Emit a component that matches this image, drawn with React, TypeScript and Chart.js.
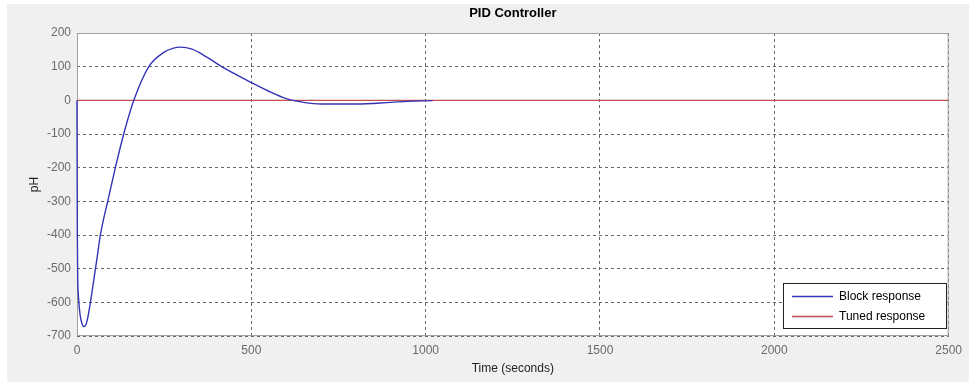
import React, { useEffect, useRef } from "react";
import { Chart, registerables } from "chart.js";

Chart.register(...registerables);

const titleText = "PID Controller";
const xTitle = "Time (seconds)";
const yTitle = "pH";
const seriesNames = ["Block response", "Tuned response"];
const blockTimes = [0, 0.5, 1, 2, 4, 7, 10, 15, 20, 25, 30, 40, 50, 58, 67, 88, 110, 134, 163, 206, 250, 277, 296, 330, 370, 415, 496, 550, 600, 650, 700, 800, 900, 950, 1020];
const blockValues = [0, -230, -400, -520, -580, -620, -645, -665, -672, -668, -650, -590, -520, -465, -400, -300, -200, -100, 0, 100, 143, 155, 158, 152, 130, 100, 55, 27, 5, -6, -11, -11, -6, -3, -1];
const tunedTimes = [0, 2500];
const tunedValues = [0, 0];
const xTicks = [0, 500, 1000, 1500, 2000, 2500];
const yTicks = [-700, -600, -500, -400, -300, -200, -100, 0, 100, 200];

const FONT = "'Liberation Sans', Arial, sans-serif";
const BLUE = "#3434b8";
const RED = "#c05050";

export default function App() {
  const ref = useRef<HTMLCanvasElement | null>(null);
  useEffect(() => {
    if (!ref.current) return;
    const decor = {
      id: "decor",
      beforeDraw(chart: any) {
        const c = chart.ctx;
        const a = chart.chartArea;
        c.save();
        c.fillStyle = "#ffffff";
        c.fillRect(0, 0, chart.width, chart.height);
        c.fillStyle = "#f0f0f0";
        c.fillRect(7, 4, chart.width - 7, chart.height - 4);
        c.fillStyle = "#ffffff";
        c.fillRect(a.left, a.top, a.right - a.left, a.bottom - a.top);
        c.restore();
      },
      beforeDatasetsDraw(chart: any) {
        const c = chart.ctx;
        const a = chart.chartArea;
        c.save();
        c.strokeStyle = "#a0a0a0";
        c.lineWidth = 1;
        c.strokeRect(a.left + 0.5, a.top + 0.5, a.right - a.left - 1, a.bottom - a.top - 1);
        c.restore();
      },
      afterDraw(chart: any) {
        const c = chart.ctx;
        const a = chart.chartArea;
        c.save();
        c.fillStyle = "#000";
        c.font = `bold 13px ${FONT}`;
        c.textAlign = "center";
        c.textBaseline = "middle";
        c.fillText(titleText, (a.left + a.right) / 2, 13);
        const lx = 783, ly = 283, lw = 164, lh = 46;
        c.fillStyle = "#fff";
        c.fillRect(lx, ly, lw, lh);
        c.strokeStyle = "#222";
        c.lineWidth = 1;
        c.strokeRect(lx + 0.5, ly + 0.5, lw - 1, lh - 1);
        c.font = `12px ${FONT}`;
        c.textAlign = "left";
        chart.data.datasets.forEach((ds: any, i: number) => {
          const yy = ly + 13 + i * 20;
          c.strokeStyle = ds.borderColor;
          c.lineWidth = 1.5;
          c.beginPath();
          c.moveTo(lx + 9, yy + 0.5);
          c.lineTo(lx + 50, yy + 0.5);
          c.stroke();
          c.fillStyle = "#000";
          c.fillText(ds.label, lx + 56, yy + 1);
        });
        c.restore();
      },
    };
    const gridOpts = { color: "#666", lineWidth: 1, drawTicks: false } as any;
    const chart = new Chart(ref.current, {
      type: "line",
      data: {
        datasets: [
          {
            label: seriesNames[0],
            data: blockTimes.map((t, i) => ({ x: t, y: blockValues[i] })),
            borderColor: BLUE,
            borderWidth: 1.4,
            pointRadius: 0,
            cubicInterpolationMode: "monotone",
            fill: false,
            clip: 2,
          },
          {
            label: seriesNames[1],
            data: tunedTimes.map((t, i) => ({ x: t, y: tunedValues[i] })),
            borderColor: RED,
            borderWidth: 1.4,
            pointRadius: 0,
            fill: false,
          },
        ],
      },
      options: {
        animation: false,
        responsive: false,
        maintainAspectRatio: false,
        layout: { padding: { top: 33, right: 20, left: 0, bottom: 0 } },
        plugins: { legend: { display: false }, title: { display: false }, tooltip: { enabled: false } },
        scales: {
          x: {
            type: "linear",
            min: 0,
            max: 2500,
            afterBuildTicks: (s: any) => { s.ticks = xTicks.map((v) => ({ value: v })); },
            afterFit: (s: any) => { s.height = 46; },
            ticks: { color: "#6a6a6a", font: { family: FONT, size: 12 }, padding: 7, maxRotation: 0, callback: (v: any) => String(v) },
            grid: gridOpts,
            border: { display: false, dash: [3, 3] },
            title: { display: true, text: xTitle, color: "#222", font: { family: FONT, size: 12 }, padding: { top: 0, bottom: 6 } },
            z: 1,
          },
          y: {
            type: "linear",
            min: -700,
            max: 200,
            afterBuildTicks: (s: any) => { s.ticks = yTicks.map((v) => ({ value: v })); },
            afterFit: (s: any) => { s.width = 77; },
            ticks: { color: "#6a6a6a", font: { family: FONT, size: 12 }, padding: 6, callback: (v: any) => String(v) },
            grid: gridOpts,
            border: { display: false, dash: [3, 3] },
            title: { display: true, text: yTitle, color: "#222", font: { family: FONT, size: 12 }, padding: { top: 27, bottom: 0 } },
            z: 1,
          },
        },
      } as any,
      plugins: [decor],
    });
    return () => chart.destroy();
  }, []);
  return (
    <div style={{ position: "fixed", left: 0, top: 0, width: 969, height: 382 }}>
      <canvas ref={ref} width={969} height={382} style={{ display: "block", width: 969, height: 382 }} />
    </div>
  );
}
